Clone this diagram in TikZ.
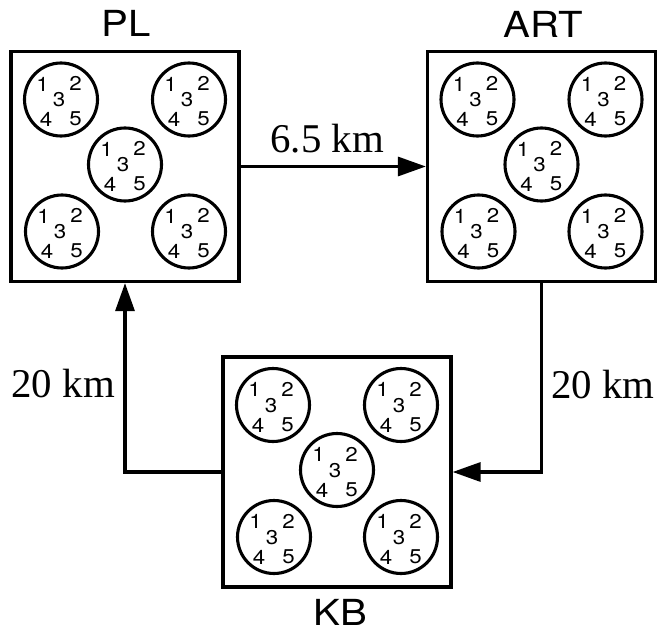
\documentclass[tikz,border=0pt]{standalone}
\usepackage{fontspec}
\setmainfont{Liberation Serif}
\setsansfont{TeX Gyre Heros}
\usetikzlibrary{arrows.meta}

\tikzset{
  sitebox/.style={draw, line width=3.2bp, minimum width=228bp, minimum height=230bp, inner sep=0pt},
  ring/.style={draw, circle, line width=3.1bp, minimum size=73bp, inner sep=0pt},
  digit/.style={inner sep=0pt, transform shape, xscale=1.12, font=\sffamily\fontsize{20}{20}\selectfont},
  sitename/.style={inner sep=0pt, anchor=base, transform shape, xscale=1.12, font=\sffamily\fontsize{36}{36}\selectfont},
  dist/.style={inner sep=0pt, font=\fontsize{41}{41}\selectfont},
  conn/.style={line width=3.2bp, -{Triangle[length=28bp,width=19bp]}},
  % one plot: a circle holding the numbers 1..5
  wheel/.pic={
    \node[ring] (-c) at (0,0) {};
    \node[digit] (-n1) at (-18.5,-15.5) {1};
    \node[digit] (-n2) at (14.5,-16) {2};
    \node[digit] (-n3) at (-2,0.5) {3};
    \node[digit] (-n4) at (-15,20) {4};
    \node[digit] (-n5) at (14.5,19.5) {5};
  },
  % five plots arranged like the five on a die
  plots/.pic={
    \pic (-a) at (-64,-67) {wheel};
    \pic (-b) at (64,-67) {wheel};
    \pic (-m) at (0,-2) {wheel};
    \pic (-d) at (-63,65) {wheel};
    \pic (-e) at (64,65) {wheel};
  }
}

\begin{document}
\begin{tikzpicture}[x=1bp, y=-1bp]
  \useasboundingbox (0,0) rectangle (660,632);

  % sites
  \node[sitebox] (PL) at (125,166.5) {};
  \node[sitebox] (ART) at (541.5,166.5) {};
  \node[sitebox] (KB) at (337,472) {};

  \pic (PLp) at (PL.center) {plots};
  \pic (ARTp) at (ART.center) {plots};
  \pic (KBp) at (KB.center) {plots};

  % site names
  \node[sitename] (PLname) at (126,37) {PL};
  \node[sitename] (ARTname) at (543,38) {ART};
  \node[sitename] (KBname) at (340,625) {KB};

  % transfers between sites
  \draw[conn] (PL.east) -- (ART.west)
    node[dist, midway, above=12bp, xshift=-6bp] (d1) {6.5 km};
  \draw[conn] (ART.south) |- (KB.east);
  \draw[conn] (KB.west) -| (PL.south);

  \node[dist, anchor=base west] (d2) at (551,398) {20 km};
  \node[dist, anchor=base east] (d3) at (115,397) {20 km};
\end{tikzpicture}
\end{document}
